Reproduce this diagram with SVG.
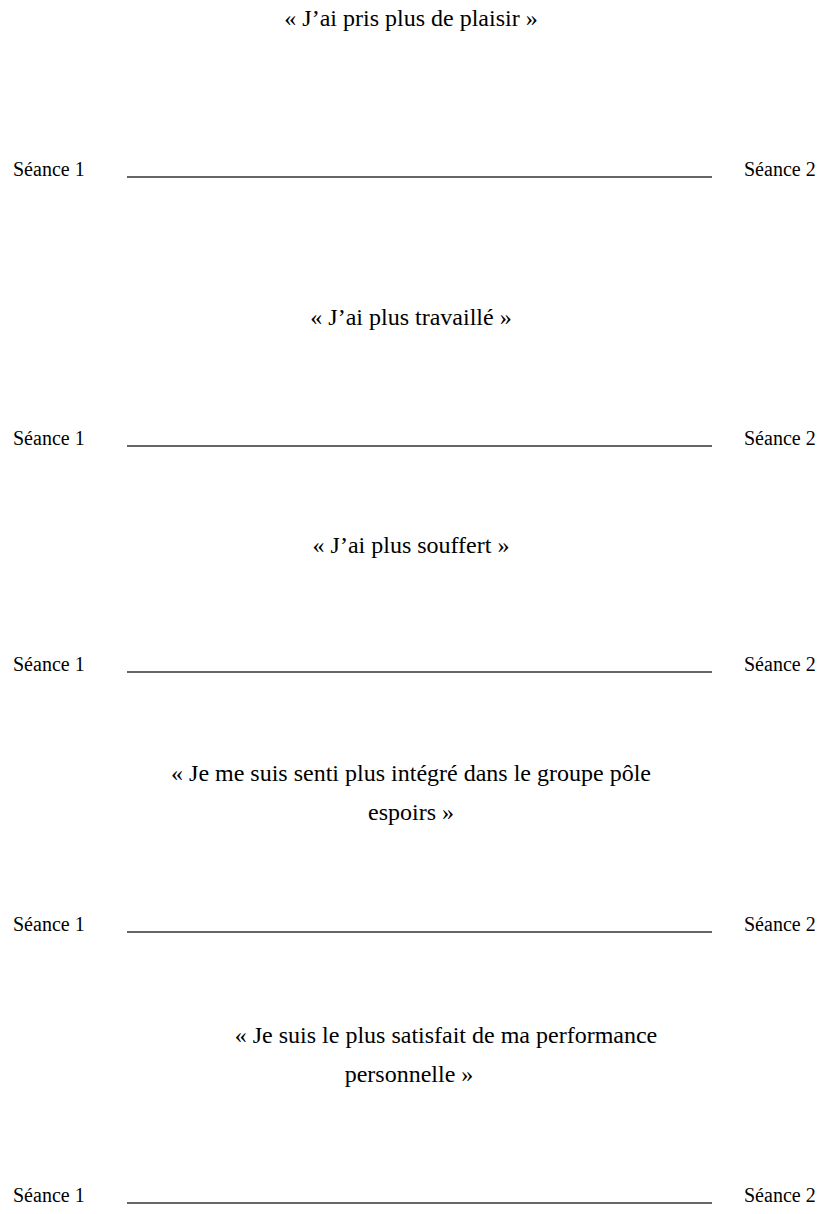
<svg xmlns="http://www.w3.org/2000/svg" width="820" height="1214" viewBox="0 0 820 1214">
<style>
.t{font-family:"Liberation Serif","Times New Roman",serif;font-size:24px;fill:#000;text-anchor:middle}
.l{font-family:"Liberation Serif","Times New Roman",serif;font-size:20px;fill:#000}
.r{font-family:"Liberation Serif","Times New Roman",serif;font-size:20px;fill:#000}
.ln{stroke:#333;stroke-width:1.5;fill:none}
</style>
<rect width="820" height="1214" fill="#fff"/>
<g id="q1"><text class="t" x="411" y="26">« J’ai pris plus de plaisir »</text></g>
<g id="s1"><text class="l" x="13" y="176">Séance 1</text><text class="r" x="744" y="176">Séance 2</text></g>
<g id="q2"><text class="t" x="411" y="325">« J’ai plus travaillé »</text></g>
<g id="s2"><text class="l" x="13" y="445">Séance 1</text><text class="r" x="744" y="445">Séance 2</text></g>
<g id="q3"><text class="t" x="411" y="553">« J’ai plus souffert »</text></g>
<g id="s3"><text class="l" x="13" y="671">Séance 1</text><text class="r" x="744" y="671">Séance 2</text></g>
<g id="q4"><text class="t" x="411" y="781">« Je me suis senti plus intégré dans le groupe pôle</text><text class="t" x="411" y="820">espoirs »</text></g>
<g id="s4"><text class="l" x="13" y="931">Séance 1</text><text class="r" x="744" y="931">Séance 2</text></g>
<g id="q5"><text class="t" x="446" y="1043">« Je suis le plus satisfait de ma performance</text><text class="t" x="409" y="1082">personnelle »</text></g>
<g id="s5"><text class="l" x="13" y="1202">Séance 1</text><text class="r" x="744" y="1202">Séance 2</text></g>
<g id="connectors">
<line class="ln" x1="127" y1="177" x2="712" y2="177"/>
<line class="ln" x1="127" y1="446" x2="712" y2="446"/>
<line class="ln" x1="127" y1="672" x2="712" y2="672"/>
<line class="ln" x1="127" y1="932" x2="712" y2="932"/>
<line class="ln" x1="127" y1="1203" x2="712" y2="1203"/>
</g>
</svg>
